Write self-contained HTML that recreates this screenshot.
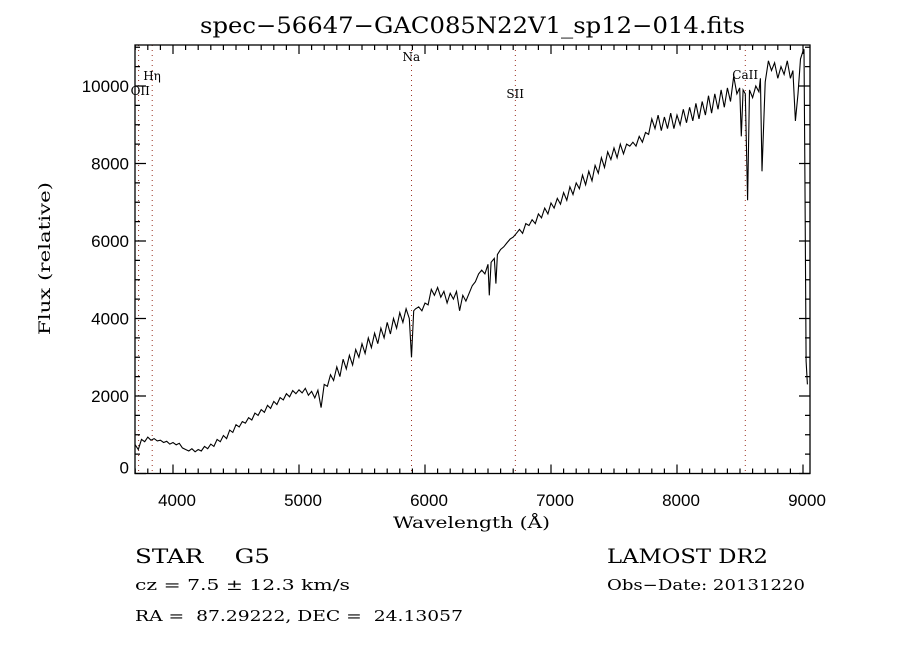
<!DOCTYPE html>
<html><head><meta charset="utf-8"><style>
html,body{margin:0;padding:0;background:#fff;}
svg{display:block;}
text{font-family:"DejaVu Serif","Liberation Serif",serif;fill:#000;}
.sans{font-family:"Liberation Sans",sans-serif;}
</style></head><body>
<svg id="chart" width="900" height="650">
<text x="200" y="33" font-size="22" textLength="545" lengthAdjust="spacingAndGlyphs">spec−56647−GAC085N22V1_sp12−014.fits</text>
<text x="393" y="528" font-size="16" textLength="157" lengthAdjust="spacingAndGlyphs">Wavelength (Å)</text>
<text transform="translate(50,335) rotate(-90)" font-size="16" textLength="153" lengthAdjust="spacingAndGlyphs">Flux (relative)</text>
<text x="135" y="563" font-size="20" textLength="135" lengthAdjust="spacingAndGlyphs" xml:space="preserve">STAR    G5</text>
<text x="135" y="590" font-size="15" textLength="215" lengthAdjust="spacingAndGlyphs">cz = 7.5 ± 12.3 km/s</text>
<text x="135" y="621" font-size="15" textLength="328" lengthAdjust="spacingAndGlyphs" xml:space="preserve">RA =  87.29222, DEC =  24.13057</text>
<text x="607" y="563" font-size="20" textLength="161" lengthAdjust="spacingAndGlyphs">LAMOST DR2</text>
<text x="607" y="590" font-size="15" textLength="198" lengthAdjust="spacingAndGlyphs">Obs−Date: 20131220</text>
<g id="lines"></g>
<g id="axes"></g>
<path id="spec" fill="none" stroke="#000" stroke-width="1.1"></path>
</svg>
<script>
const waves=[3700,3725,3750,3775,3800,3825,3850,3875,3900,3925,3950,3975,4000,4025,4050,4075,4100,4125,4150,4175,4200,4225,4250,4275,4300,4325,4350,4375,4400,4425,4450,4475,4500,4525,4550,4575,4600,4625,4650,4675,4700,4725,4750,4775,4800,4825,4850,4875,4900,4925,4950,4975,5000,5025,5050,5075,5100,5125,5150,5175,5200,5225,5250,5275,5300,5325,5350,5375,5400,5425,5450,5475,5500,5525,5550,5575,5600,5625,5650,5675,5700,5725,5750,5775,5800,5825,5850,5875,5893,5910,5925,5950,5975,6000,6025,6050,6075,6100,6125,6150,6175,6200,6225,6250,6275,6300,6325,6350,6375,6400,6425,6450,6475,6500,6510,6525,6550,6563,6575,6600,6625,6650,6675,6700,6725,6750,6775,6800,6825,6850,6875,6900,6925,6950,6975,7000,7025,7050,7075,7100,7125,7150,7175,7200,7225,7250,7275,7300,7325,7350,7375,7400,7425,7450,7475,7500,7525,7550,7575,7600,7625,7650,7675,7700,7725,7750,7775,7800,7825,7850,7875,7900,7925,7950,7975,8000,8025,8050,8075,8100,8125,8150,8175,8200,8225,8250,8275,8300,8325,8350,8375,8400,8425,8450,8475,8498,8510,8525,8542,8560,8575,8600,8625,8650,8662,8675,8700,8725,8750,8775,8800,8825,8850,8875,8900,8920,8940,8960,8980,9000,9008,9015,9025,9035];
const flux=[740,620,880,820,940,860,900,840,860,800,830,760,800,740,780,660,620,580,640,560,620,580,700,640,760,700,880,820,980,900,1120,1060,1260,1200,1340,1300,1440,1380,1560,1500,1650,1580,1760,1680,1860,1780,1960,1900,2060,1980,2140,2060,2160,2080,2200,2020,2120,1950,2150,1700,2300,2250,2550,2400,2750,2500,2950,2700,3050,2800,3200,3000,3350,3100,3500,3250,3620,3350,3750,3500,3900,3600,4000,3750,4150,3900,4250,4000,3000,4200,4250,4300,4200,4400,4350,4750,4600,4800,4550,4700,4400,4650,4500,4700,4200,4600,4450,4650,4850,4950,5150,5250,5150,5400,4600,5450,5550,4900,5650,5780,5850,5950,6050,6100,6200,6300,6200,6450,6400,6550,6450,6700,6600,6850,6700,6980,6850,7100,6950,7250,7050,7400,7200,7500,7350,7700,7450,7800,7550,7950,7750,8150,7900,8300,8100,8400,8150,8500,8250,8500,8450,8550,8450,8700,8550,8800,8750,9150,8900,9250,8850,9200,8900,9300,8900,9250,9000,9400,9050,9450,9100,9550,9150,9600,9250,9750,9300,9800,9400,9900,9450,9950,9600,10250,9800,9950,8700,9900,9800,7050,9900,9700,10000,9850,10200,7800,10100,10650,10400,10600,10200,10500,10300,10650,10200,10400,9100,9800,10700,10900,10950,7700,2900,2300,0];
const xTicks=[4000,5000,6000,7000,8000,9000];
const yTicks=[0,2000,4000,6000,8000,10000];
const lineNames=["OII","Hη","Na","SII","CaII"];
const lineWaves=[3727,3835,5893,6717,8542];
const L=135,R=810,T=45,B=473.5;
const X=w=>173+(w-4000)*0.126;
const Y=f=>B-f*0.03875;
const NS="http://www.w3.org/2000/svg";
const ax=document.getElementById('axes');
function mk(tag,attrs,parent){const e=document.createElementNS(NS,tag);for(const k in attrs)e.setAttribute(k,attrs[k]);parent.appendChild(e);return e;}
const frame=mk('rect',{x:L,y:T,width:R-L,height:B-T,fill:'none',stroke:'#000','stroke-width':1.3},ax);


let d='';
for(let w=3700;w<=9050;w+=100){const x=X(w);if(x<L||x>R)continue;const len=(w%1000===0)?9:5;d+=`M${x},${B}v${-len}M${x},${T}v${len}`;}
for(let f=0;f<=11000;f+=500){const y=Y(f);if(y<T)continue;const len=(f%2000===0)?11:5;d+=`M${L},${y}h${len}M${R},${y}h${-len}`;}
const tk=mk('path',{d:d,stroke:'#000','stroke-width':1.2,fill:'none'},ax);


xTicks.forEach(v=>{const t=mk('text',{x:X(v)+4,y:506,'font-size':17,'text-anchor':'middle',class:'sans'},ax);t.textContent=v;

});
yTicks.forEach(v=>{const t=mk('text',{x:129,y:Y(v)+(v===0?0:6),'font-size':17,'text-anchor':'end',class:'sans'},ax);t.textContent=v;

});
const lg=document.getElementById('lines');
const labY=[95,80,61,98,79];
const labDx=[-8,-9,-9,-9,-13];
lineWaves.forEach((w,i)=>{const x=X(w);const l=mk('line',{x1:x,x2:x,y1:T,y2:B,stroke:'#9b3020','stroke-width':1,'stroke-dasharray':'1,4'},lg);


const t=mk('text',{x:x+labDx[i],y:labY[i],'font-size':12},lg);t.textContent=lineNames[i];

});
let p='';waves.forEach((w,i)=>{p+=(i?'L':'M')+X(w).toFixed(1)+','+Y(flux[i]).toFixed(1);});
document.getElementById('spec').setAttribute('d',p);
</script>
</body></html>
